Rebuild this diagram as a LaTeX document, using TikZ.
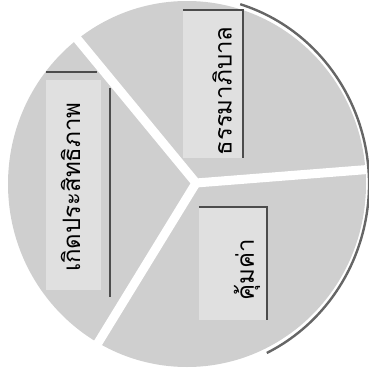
\documentclass[tikz,border=0pt]{standalone}
\usepackage{fontspec}
\newfontfamily\thaifont[Script=Thai]{Loma}
\usetikzlibrary{calc}
\begin{document}
\begin{tikzpicture}[
  x=1pt, y=-1pt,
  sector/.style={fill=black!19},
  gap/.style={draw=white, line width=9pt},
  rim/.style={draw=black!60, line width=2.4pt},
  panel/.style={rectangle, fill=black!12, inner sep=0pt},
  shadow/.style={draw=black!70, line width=2pt},
  label/.style={rotate=90, inner sep=0pt, text=black,
    font=\thaifont\fontsize{24}{28}\selectfont}
]
  \useasboundingbox (0,0) rectangle (368,380);

  % pie body
  \coordinate (pie) at (187,184);
  \coordinate (hub) at (196,183);
  \fill[sector] (pie) ellipse [x radius=179pt, y radius=183pt];

  % white gaps between the three parts
  \draw[gap] (hub) -- ++(129.5:220pt);
  \draw[gap] (hub) -- ++(4.5:220pt);
  \draw[gap] (hub) -- ++(238.5:220pt);

  % dark rim on the right
  \draw[rim] ($(pie)+(73:182pt and 188pt)$)
    arc [start angle=73, end angle=-64, x radius=182pt, y radius=188pt];

  % panels
  \node[panel, minimum width=60pt, minimum height=148pt] (govbox) at (213,84) {};
  \node[panel, minimum width=68pt, minimum height=113pt] (valbox) at (233,263.5) {};
  \node[panel, minimum width=55pt, minimum height=210pt] (effbox) at (73.5,185) {};

  % panel shadows
  \draw[shadow] (govbox.north west) -- (govbox.north east) -- (govbox.south east);
  \draw[shadow] (valbox.north west) -- (valbox.north east) -- (valbox.south east);
  \draw[shadow] ([yshift=8pt]effbox.north west) -- ([xshift=-4pt,yshift=8pt]effbox.north east);
  \draw[shadow] ([xshift=9pt,yshift=-8pt]effbox.north east) -- ([xshift=9pt,yshift=-7pt]effbox.south east);

  % labels
  \node[label] (gov) at ([xshift=9pt,yshift=-7pt]govbox.center) {ธรรมาภิบาล};
  \node[label] (val) at ([xshift=14pt,yshift=-6pt]valbox.center) {คุ้มค่า};
  \node[label] (eff) at ([xshift=-3pt,yshift=-2pt]effbox.center) {เกิดประสิทธิภาพ};
\end{tikzpicture}
\end{document}
